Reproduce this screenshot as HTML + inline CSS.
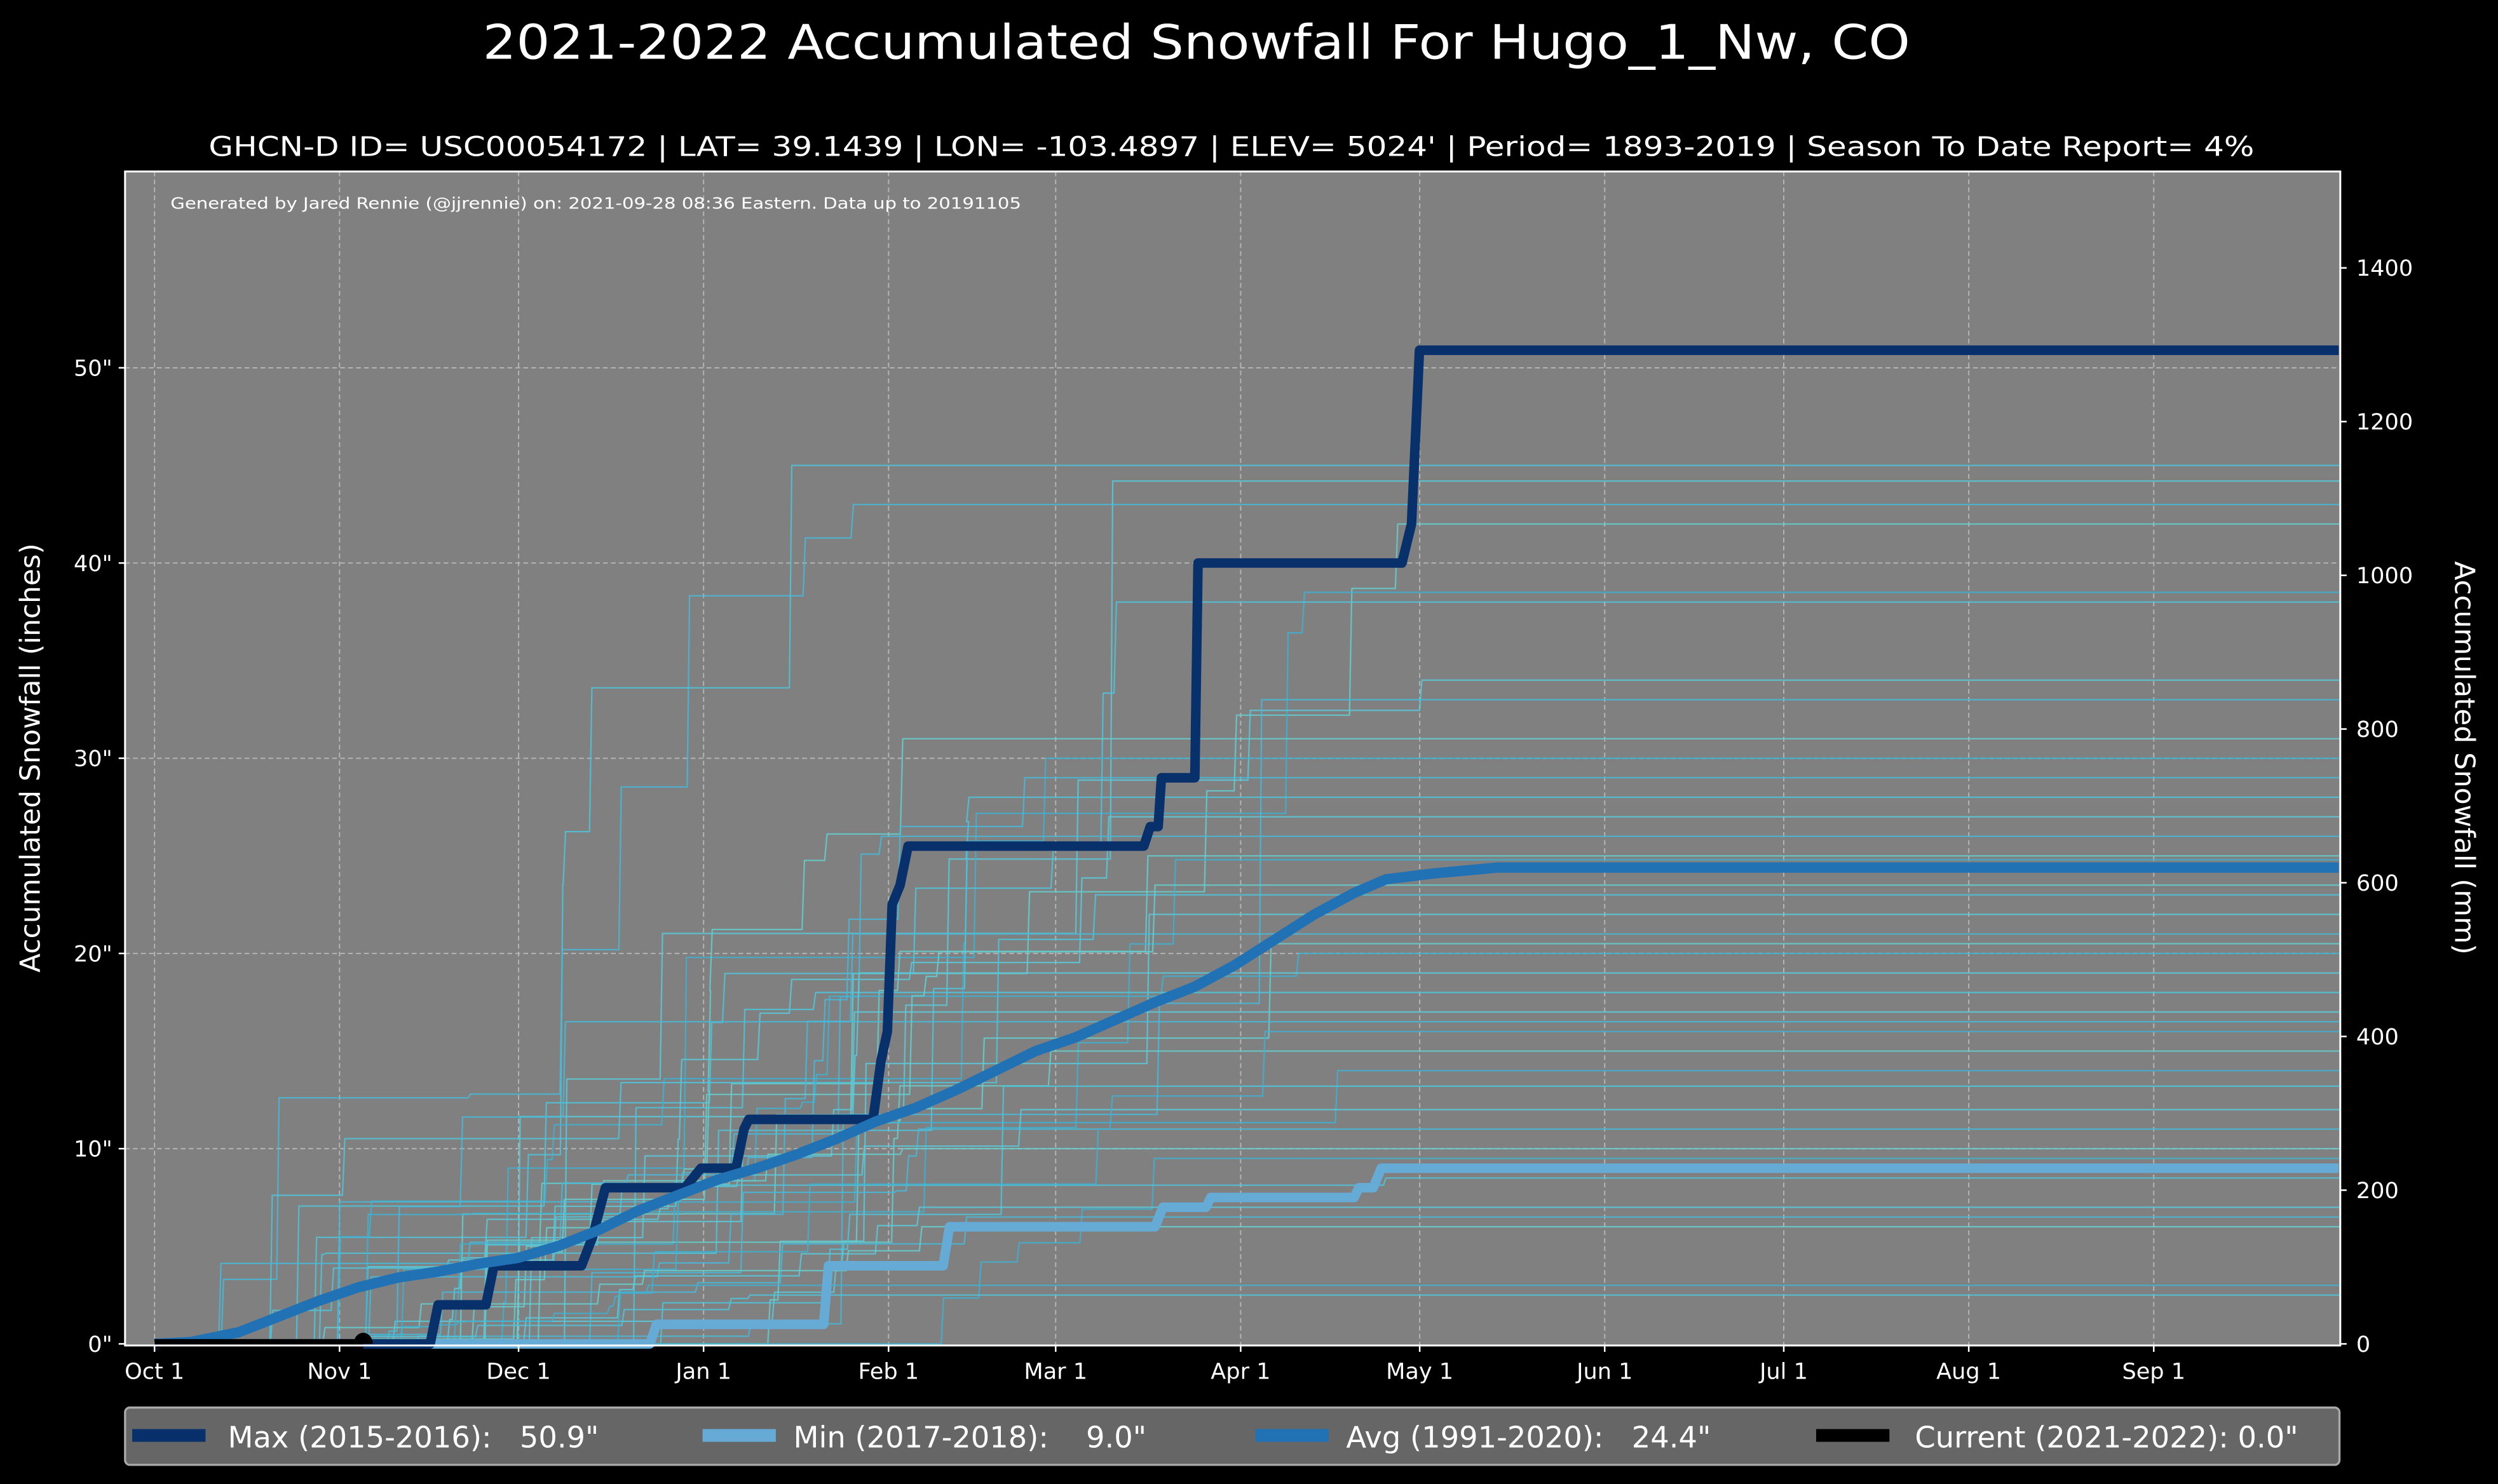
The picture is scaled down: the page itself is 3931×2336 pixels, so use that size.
<!DOCTYPE html>
<html><head><meta charset="utf-8"><style>
html,body{margin:0;padding:0;background:#000;width:3931px;height:2336px;overflow:hidden}
svg{display:block}
text{font-family:"DejaVu Sans","Liberation Sans",sans-serif;fill:#fff;white-space:pre}
</style></head><body>
<svg id="s" width="3931" height="2336" viewBox="0 0 1568 932" preserveAspectRatio="none" xmlns="http://www.w3.org/2000/svg">
<rect x="0" y="0" width="1568" height="932" fill="#000"/>
<text x="751" y="37" font-size="30" text-anchor="middle" textLength="896" lengthAdjust="spacingAndGlyphs">2021-2022 Accumulated Snowfall For Hugo_1_Nw, CO</text>
<text x="773" y="98" font-size="17" text-anchor="middle" textLength="1284" lengthAdjust="spacingAndGlyphs">GHCN-D ID= USC00054172 | LAT= 39.1439 | LON= -103.4897 | ELEV= 5024' | Period= 1893-2019 | Season To Date Report= 4%</text>
<rect x="78.5" y="107.7" width="1390.5" height="737.3" fill="#808080"/>
<g id="grid" stroke="#c0c0c0" stroke-width="0.8" stroke-dasharray="3,2" opacity="0.8"></g>
<text x="107" y="131" font-size="10" textLength="534" lengthAdjust="spacingAndGlyphs">Generated by Jared Rennie (@jjrennie) on: 2021-09-28 08:36 Eastern. Data up to 20191105</text>
<g id="thin" fill="none" stroke-width="0.9"></g>
<g id="main" fill="none" stroke-linejoin="round"></g>
<rect x="78.5" y="107.7" width="1390.5" height="737.3" fill="none" stroke="#fff" stroke-width="1.2"/>
<g id="ticks" stroke="#fff" stroke-width="1"></g>
<g id="labels"></g>
<text transform="translate(25,476) rotate(-90)" font-size="17.5" text-anchor="middle">Accumulated Snowfall (inches)</text>
<text transform="translate(1541,476) rotate(90)" font-size="17.5" text-anchor="middle">Accumulated Snowfall (mm)</text>
<rect x="78.5" y="884" width="1390" height="36" rx="3" fill="#666" stroke="#aaa" stroke-width="1.3"/>
<rect x="83" y="897.5" width="46" height="8" fill="#08306b"/>
<text x="143" y="909" font-size="18.5" xml:space="preserve">Max (2015-2016):   50.9"</text>
<rect x="441" y="897.5" width="46" height="8" fill="#66aad6"/>
<text x="498" y="909" font-size="18.5" xml:space="preserve">Min (2017-2018):    9.0"</text>
<rect x="788" y="897.5" width="46" height="8" fill="#2171b5"/>
<text x="845" y="909" font-size="18.5" xml:space="preserve">Avg (1991-2020):   24.4"</text>
<rect x="1140" y="897.5" width="46" height="8" fill="#000"/>
<text x="1202" y="909" font-size="18.5" xml:space="preserve">Current (2021-2022): 0.0"</text>
</svg>
<script>
var NS="http://www.w3.org/2000/svg";
function el(p,t,a,txt){var e=document.createElementNS(NS,t);for(var k in a)e.setAttribute(k,a[k]);if(txt!=null)e.textContent=txt;document.getElementById(p).appendChild(e);return e;}
var X0=97,DX=3.746,Y0=844,YI=12.26,L=78.5,R=1469,T=107.7,B=845;
function X(d){return X0+d*DX}function Y(v){return Y0-v*YI}
var months=[["Oct 1",0],["Nov 1",31],["Dec 1",61],["Jan 1",92],["Feb 1",123],["Mar 1",151],["Apr 1",182],["May 1",212],["Jun 1",243],["Jul 1",273],["Aug 1",304],["Sep 1",335]];
months.forEach(function(m){var x=X(m[1]);el("grid","line",{x1:x,x2:x,y1:T,y2:B});el("ticks","line",{x1:x,x2:x,y1:B,y2:B+4});el("labels","text",{x:x,y:866,"font-size":14,"text-anchor":"middle"},m[0]);});
for(var v=0;v<=50;v+=10){var y=Y(v);if(v>0)el("grid","line",{x1:L,x2:R,y1:y,y2:y});el("ticks","line",{x1:L-4,x2:L,y1:y,y2:y});el("labels","text",{x:L-8,y:y+5,"font-size":14,"text-anchor":"end"},v+'"');}
for(var mm=0;mm<=1400;mm+=200){var y=Y(mm/25.4);el("ticks","line",{x1:R,x2:R+4,y1:y,y2:y});el("labels","text",{x:R+10,y:y+5,"font-size":14},String(mm));}
var seed=11;function rnd(){seed=(seed*16807)%2147483647;return (seed-1)/2147483646;}
var finals=[45,44.2,43,42,38.5,38,34,33,31,30,28,27,26,25,24.8,23,22,21,20.5,20,18,17,16.5,15,14,13.2,12,11,10,9.5,8.5,7,6.5,6,3,2.5,19,29,23.5,16];
var cols=["#4fc3d9","#5bc8d8","#48b8d8","#66cccc","#3fb0d0"];
finals.forEach(function(f,i){var end=120+rnd()*110;if(f<8)end=60+rnd()*200;var start=rnd()*50;var n=4+Math.floor(rnd()*7);var ds=[];for(var k=0;k<n;k++)ds.push(start+rnd()*(end-start));ds.sort(function(a,b){return a-b});var cuts=[];for(var k=0;k<n;k++)cuts.push(rnd());var s=cuts.reduce(function(a,b){return a+b},0);var v=0,d="M"+X(0)+","+Y(0);ds.forEach(function(dd,k){d+=" L"+X(dd)+","+Y(v);v+=cuts[k]/s*f;d+=" L"+(X(dd)+1.5)+","+Y(v);});d+=" L"+R+","+Y(v);el("thin","path",{d:d,stroke:cols[i%cols.length],opacity:0.85});});
function P(pts){return pts.map(function(p,i){return (i?"L":"M")+p[0]+","+Y(p[1])}).join(" ");}
el("main","path",{d:P([[97,0],[408,0],[412,1],[517,1],[520,4],[592,4],[596,6],[725,6],[730,7],[757,7],[760,7.5],[850,7.5],[853,8],[862,8],[867,9],[1468,9]]),stroke:"#66aad6","stroke-width":6});
el("main","path",{d:P([[97,0],[270,0],[275,2],[305,2],[310,4],[365,4],[372,5.5],[380,8],[430,8],[440,9],[462,9],[467,11],[470,11.5],[548,11.5],[553,14.5],[557,16],[560,22.5],[565,23.5],[570,25.5],[718,25.5],[722,26.5],[727,26.5],[729,29],[750,29],[752,40],[880,40],[886,42],[891,50.9],[1468,50.9]]),stroke:"#08306b","stroke-width":6});
el("main","path",{d:P([[97,0],[120,0.1],[150,0.6],[175,1.4],[200,2.2],[225,2.9],[250,3.4],[275,3.7],[300,4.1],[325,4.4],[350,5],[375,5.8],[400,6.8],[425,7.6],[450,8.4],[475,9],[500,9.7],[525,10.5],[550,11.4],[575,12.1],[600,13],[625,14],[650,15],[675,15.7],[700,16.6],[725,17.5],[750,18.3],[775,19.4],[800,20.7],[825,22],[850,23.1],[870,23.8],[900,24.1],[940,24.4],[1468,24.4]]),stroke:"#2171b5","stroke-width":6.5});
el("main","path",{d:P([[97,0],[228,0]]),stroke:"#000","stroke-width":6});
el("main","path",{d:"M222,"+Y0+" A6,7 0 0 1 234,"+Y0+" Z",fill:"#000",stroke:"none"});
</script>
</body></html>
